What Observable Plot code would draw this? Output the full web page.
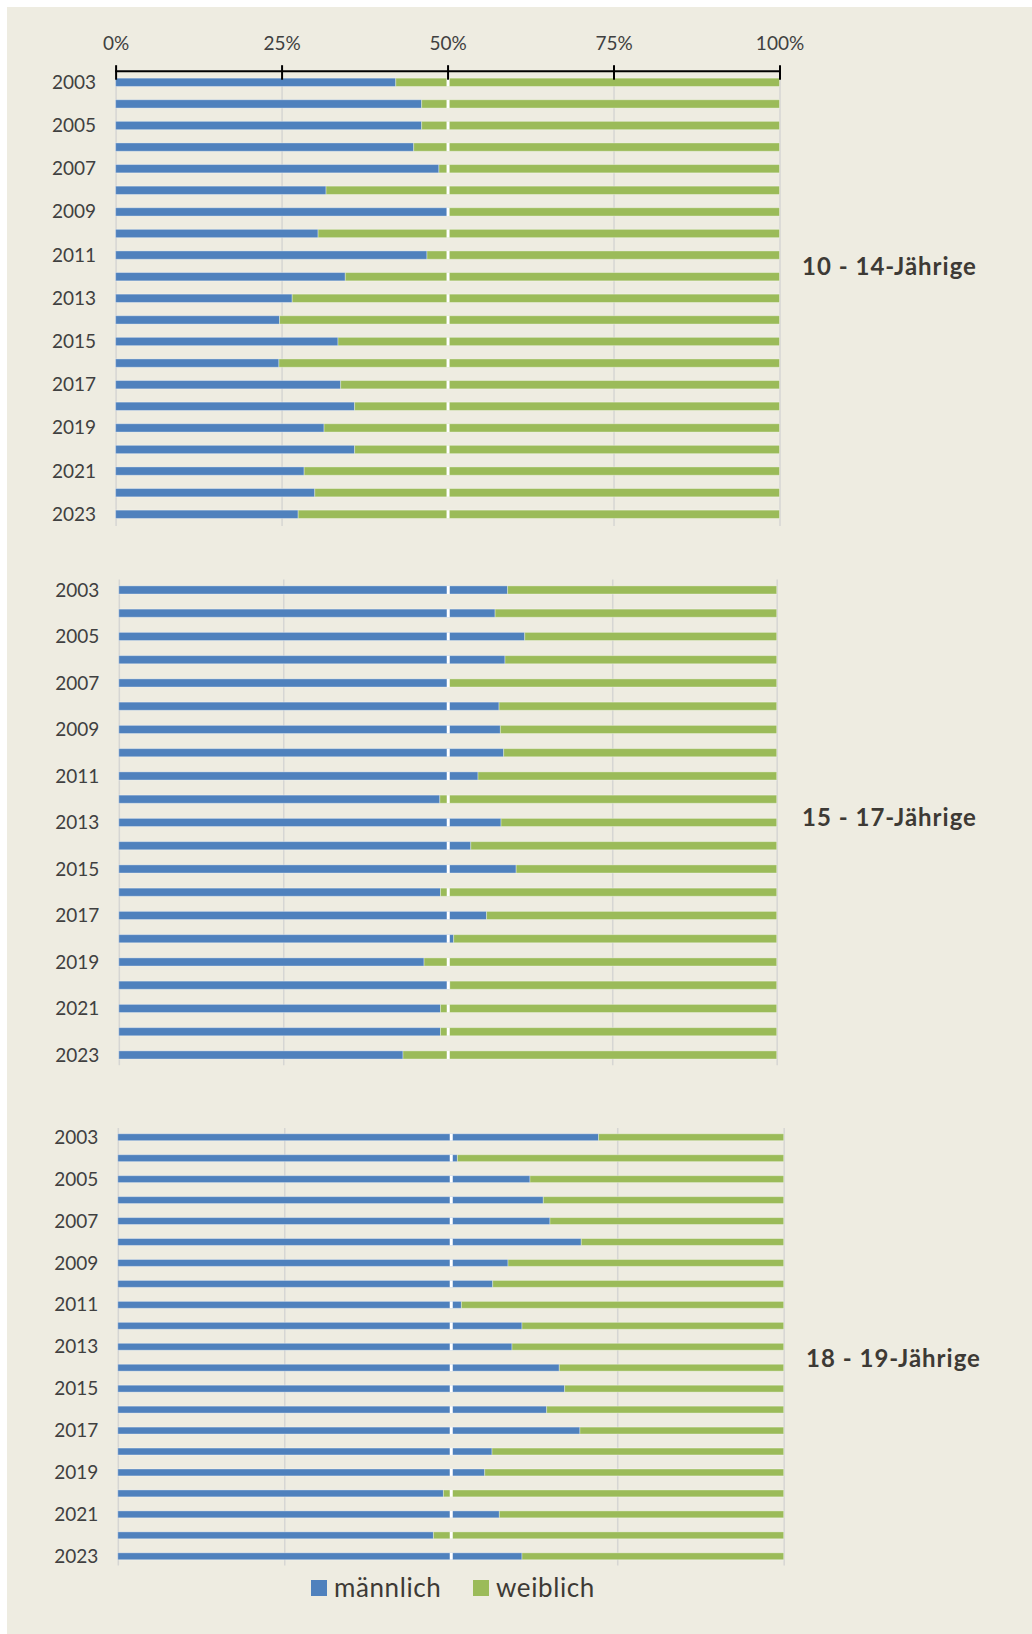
<!DOCTYPE html>
<html>
<head>
<meta charset="utf-8">
<script src="https://cdn.jsdelivr.net/npm/d3@7"></script>
<script src="https://cdn.jsdelivr.net/npm/@observablehq/plot@0.6"></script>
<style>
  html, body { margin: 0; padding: 0; background: #ffffff; }
  body { position: relative; width: 1032px; height: 1634px; overflow: hidden; }
  #panel { position: absolute; left: 7px; top: 7px; width: 1025px; height: 1627px; background: #EEECE1; }
  .chart { position: absolute; left: 0; }
  .title { position: absolute; font-family: Lato, "Open Sans", sans-serif; font-weight: bold; font-size: 24px;
           line-height: 24px; color: #3D3A35; white-space: nowrap; letter-spacing: 1px; }
  .legend { position: absolute; font-family: Lato, "Open Sans", sans-serif; font-size: 26px; line-height: 26px;
            color: #3D3A35; white-space: nowrap; letter-spacing: 0.6px; }
  .sw { position: absolute; width: 16px; height: 16px; }
</style>
</head>
<body>
<div id="panel"></div>
<div id="c1" class="chart" style="top:0px"></div>
<div id="c2" class="chart" style="top:540px"></div>
<div id="c3" class="chart" style="top:1080px"></div>
<div id="titles"></div>
<div id="legend"></div>
<script>
// ---- data ----
const years = [2003, 2004, 2005, 2006, 2007, 2008, 2009, 2010, 2011, 2012, 2013,
               2014, 2015, 2016, 2017, 2018, 2019, 2020, 2021, 2022, 2023];
const labeledYears = [2003, 2005, 2007, 2009, 2011, 2013, 2015, 2017, 2019, 2021, 2023];
const xTicks = [0, 0.25, 0.5, 0.75, 1];
const series = ["männlich", "weiblich"];
const seriesColors = ["#4F81BD", "#9BBB59"];
const groupTitles = ["10 - 14-Jährige", "15 - 17-Jährige", "18 - 19-Jährige"];
// share of "männlich" per year; "weiblich" is the remainder to 100 %
const male10to14 = [0.422, 0.461, 0.461, 0.449, 0.487, 0.317, 0.500, 0.305, 0.469, 0.346, 0.266,
                    0.247, 0.335, 0.246, 0.339, 0.360, 0.314, 0.360, 0.284, 0.300, 0.275];
const male15to17 = [0.591, 0.572, 0.617, 0.587, 0.500, 0.578, 0.580, 0.585, 0.546, 0.488, 0.581,
                    0.535, 0.604, 0.489, 0.559, 0.509, 0.464, 0.503, 0.489, 0.489, 0.432];
const male18to19 = [0.722, 0.510, 0.619, 0.639, 0.649, 0.696, 0.586, 0.563, 0.516, 0.607, 0.592,
                    0.663, 0.671, 0.644, 0.694, 0.562, 0.551, 0.489, 0.573, 0.474, 0.607];

const textColor = "#404040";
const font = "Lato, 'Open Sans', sans-serif";

function panel(male, cfg) {
  const rows = [];
  years.forEach((y, i) => {
    rows.push({year: y, sex: series[0], value: male[i]});
    rows.push({year: y, sex: series[1], value: 1 - male[i]});
  });
  const marks = [
    Plot.gridX([0, 0.25, 0.75, 1], {stroke: "#D6D6D3", strokeOpacity: 1, strokeWidth: 1.5}),
    Plot.barX(rows, {x: "value", y: "year", fill: "sex", stroke: "#ffffff", strokeOpacity: 0.35, strokeWidth: 1}),
    Plot.tickX(years, {x: () => 0.5, y: d => d, stroke: "#ffffff", strokeWidth: 3}),
    Plot.axisY(labeledYears, {tickSize: 0, tickPadding: 20, tickFormat: d => String(d), label: null,
                              fontSize: 19, fill: textColor})
  ];
  if (cfg.topAxis) {
    marks.push(Plot.frame({anchor: "top", stroke: "#000000", strokeWidth: 2}));
    marks.push(Plot.axisX(xTicks, {anchor: "top", tickSize: 14.5, tickPadding: 14.5, dy: 8, label: null,
                                   tickFormat: d => Math.round(d * 100) + "%",
                                   stroke: "#000000", strokeWidth: 2, fill: textColor, fontSize: 19}));
  }
  return Plot.plot({
    width: 1032,
    height: cfg.height,
    marginTop: cfg.mt, marginBottom: cfg.mb, marginLeft: cfg.ml, marginRight: cfg.mr,
    style: {background: "transparent", fontFamily: font, fontSize: "19px", color: textColor},
    x: {domain: [0, 1], axis: null, label: null},
    y: {domain: years, paddingInner: cfg.pi, paddingOuter: cfg.po, round: false, axis: null, label: null},
    color: {domain: series, range: seriesColors},
    marks
  });
}

document.getElementById("c1").append(panel(male10to14,
  {height: 540, mt: 70.7, mb: 14.1, ml: 115.6, mr: 252.5, pi: 0.615, po: 0.345, topAxis: true}));
document.getElementById("c2").append(panel(male15to17,
  {height: 540, mt: 39.6, mb: 14.7, ml: 118.8, mr: 255.3, pi: 0.65, po: 0.27, topAxis: false}));
document.getElementById("c3").append(panel(male18to19,
  {height: 500, mt: 47.9, mb: 14.4, ml: 117.8, mr: 248.3, pi: 0.67, po: 0.28, topAxis: false}));

// group titles at the right
const titlePos = [{left: 802, cy: 267}, {left: 802, cy: 818.3}, {left: 806, cy: 1359.3}];
const tdiv = document.getElementById("titles");
groupTitles.forEach((t, i) => {
  const d = document.createElement("div");
  d.className = "title";
  d.textContent = t;
  d.style.left = titlePos[i].left + "px";
  d.style.top = (titlePos[i].cy - 13.5) + "px";
  tdiv.append(d);
});

// legend below
const ldiv = document.getElementById("legend");
const legPos = [{sw: 310.5, tx: 334}, {sw: 473, tx: 496}];
series.forEach((s, i) => {
  const sw = document.createElement("div");
  sw.className = "sw";
  sw.style.left = legPos[i].sw + "px";
  sw.style.top = "1580px";
  sw.style.background = seriesColors[i];
  ldiv.append(sw);
  const t = document.createElement("div");
  t.className = "legend";
  t.textContent = s;
  t.style.left = legPos[i].tx + "px";
  t.style.top = (1588 - 14.5) + "px";
  ldiv.append(t);
});
</script>
</body>
</html>
